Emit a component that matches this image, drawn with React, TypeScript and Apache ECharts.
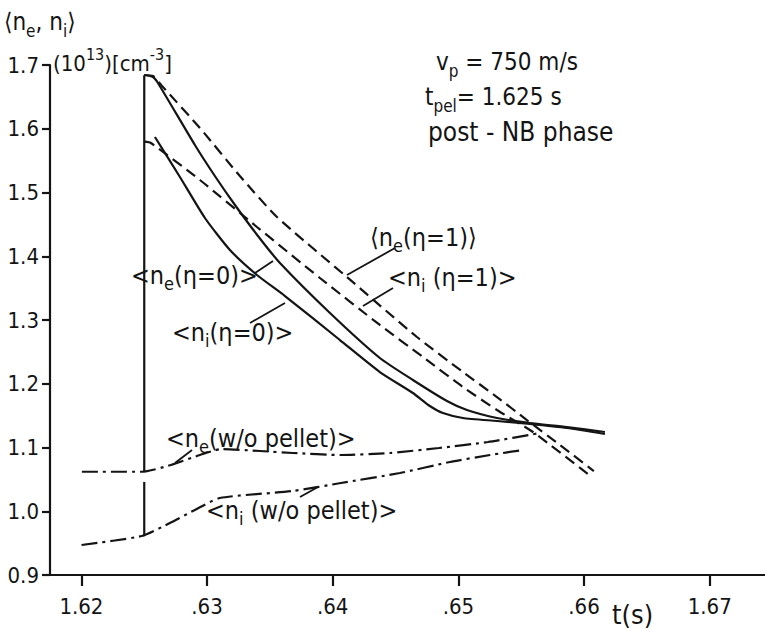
import React, { useEffect, useRef } from "react";
import * as echarts from "echarts";

// ---- data (t [s], density [1e13 cm^-3]) ----
const xTicks = [1.62, 1.63, 1.64, 1.65, 1.66, 1.67];
const xTickLabels = ["1.62", ".63", ".64", ".65", ".66", "1.67"];

const jumpNe = [[1.625, 1.062], [1.625, 1.684]];
const jumpNi = [[1.625, 0.961], [1.625, 1.046]];

const neEta0 = [
  [1.625, 1.6843], [1.62569, 1.6812], [1.62609, 1.6718], [1.62903, 1.5745],
  [1.63062, 1.5259], [1.63222, 1.4804], [1.63405, 1.4318], [1.6358, 1.3894],
  [1.63978, 1.311], [1.64375, 1.2404], [1.64638, 1.2059], [1.64909, 1.1729],
  [1.65068, 1.1588], [1.65307, 1.1463], [1.65569, 1.1384], [1.65864, 1.1322],
  [1.66166, 1.1243],
];

const niEta0 = [
  [1.62585, 1.5871], [1.62784, 1.5243], [1.62983, 1.46], [1.63182, 1.4098],
  [1.63397, 1.3706], [1.6362, 1.3376], [1.64057, 1.2686], [1.64375, 1.2184],
  [1.64638, 1.1855], [1.64773, 1.1651], [1.64877, 1.1541], [1.65036, 1.1463],
  [1.65307, 1.1416], [1.65569, 1.1369], [1.65864, 1.1306], [1.66166, 1.1212],
];

const neEta1 = [
  [1.625, 1.6843], [1.62569, 1.6827], [1.62649, 1.6655], [1.62943, 1.6012],
  [1.63261, 1.5259], [1.63556, 1.4616], [1.64113, 1.3674], [1.6467, 1.2733],
  [1.65036, 1.2184], [1.65307, 1.1792], [1.65545, 1.1431], [1.65808, 1.1039],
  [1.66078, 1.0631],
];

const niEta1 = [
  [1.625, 1.5797], [1.62553, 1.5776], [1.62943, 1.5196], [1.63397, 1.4459],
  [1.63898, 1.3659], [1.64375, 1.2922], [1.64718, 1.242], [1.65036, 1.1949],
  [1.65307, 1.1588], [1.65593, 1.1243], [1.66031, 1.0584],
];

const neNoPellet = [
  [1.62004, 1.062], [1.62481, 1.062], [1.62712, 1.0725], [1.62943, 1.0882],
  [1.63118, 1.0976], [1.6342, 1.0945], [1.63683, 1.0914], [1.64065, 1.0882],
  [1.64455, 1.0914], [1.64845, 1.0992], [1.65235, 1.1086], [1.65649, 1.1227],
];

const niNoPellet = [
  [1.62001, 0.9471], [1.62481, 0.9612], [1.62704, 0.9816], [1.62903, 1.002],
  [1.63102, 1.0208], [1.63683, 1.0318], [1.64065, 1.0443], [1.64535, 1.06],
  [1.64933, 1.0773], [1.65251, 1.0882], [1.65513, 1.0961],
];

const FONT = '"DejaVu Sans Condensed", "Liberation Sans Narrow", "DejaVu Sans", sans-serif';
const INK = "#141414";

const richStyles = (size: number) => ({
  m: { fontSize: size, fontFamily: FONT, fill: INK, color: INK, lineHeight: 34, verticalAlign: "middle" },
  s: { fontSize: Math.round(size * 0.72), fontFamily: FONT, fill: INK, color: INK, lineHeight: 34, verticalAlign: "bottom" },
  u: { fontSize: Math.round(size * 0.72), fontFamily: FONT, fill: INK, color: INK, lineHeight: 34, verticalAlign: "top" },
});

function label(x: number, y: number, text: string, size = 25) {
  return {
    type: "text",
    x,
    y,
    style: {
      text,
      rich: richStyles(size),
      fill: INK,
      fontFamily: FONT,
      fontSize: size,
      verticalAlign: "middle",
      align: "left",
    },
    z: 10,
  };
}

function leader(x1: number, y1: number, x2: number, y2: number) {
  return {
    type: "line",
    shape: { x1, y1, x2, y2 },
    style: { stroke: INK, lineWidth: 1.8 },
    z: 10,
  };
}

function lineSeries(name: string, data: number[][], type: any, smooth: number | boolean = 0.2) {
  return {
    name,
    type: "line",
    data,
    showSymbol: false,
    symbol: "none",
    smooth,
    lineStyle: { color: INK, width: 2.2, type },
    silent: true,
  };
}

export default function App() {
  const ref = useRef<HTMLDivElement>(null);
  useEffect(() => {
    if (!ref.current) return;
    const chart = echarts.init(ref.current, null, { renderer: "svg" });
    const option: any = {
      animation: false,
      backgroundColor: "#ffffff",
      grid: { left: 50, right: 0, top: 65, bottom: 55, containLabel: false },
      xAxis: {
        type: "value",
        min: 1.6175,
        max: 1.6744,
        splitLine: { show: false },
        axisLine: { show: true, lineStyle: { color: INK, width: 2.2 } },
        axisTick: { show: true, length: 11, inside: false, lineStyle: { color: INK, width: 2.2 }, customValues: xTicks },
        axisLabel: {
          customValues: xTicks,
          margin: 20,
          fontSize: 22,
          fontFamily: FONT,
          color: INK,
          formatter: (v: number) => {
            const i = xTicks.findIndex((t) => Math.abs(t - v) < 1e-6);
            return i >= 0 ? xTickLabels[i] : "";
          },
        },
      },
      yAxis: {
        type: "value",
        min: 0.9,
        max: 1.7,
        interval: 0.1,
        splitLine: { show: false },
        axisLine: { show: true, lineStyle: { color: INK, width: 2.2 } },
        axisTick: { show: true, length: 8, inside: false, lineStyle: { color: INK, width: 2.2 } },
        axisLabel: {
          margin: 11,
          fontSize: 22,
          fontFamily: FONT,
          color: INK,
          formatter: (v: number) => v.toFixed(1),
        },
      },
      series: [
        lineSeries("jump ne", jumpNe, "solid", false),
        lineSeries("jump ni", jumpNi, "solid", false),
        lineSeries("<ne(η=0)>", neEta0, "solid"),
        lineSeries("<ni(η=0)>", niEta0, "solid"),
        lineSeries("<ne(η=1)>", neEta1, [11, 6]),
        lineSeries("<ni(η=1)>", niEta1, [11, 6]),
        lineSeries("<ne(w/o pellet)>", neNoPellet, [16, 5, 3, 5]),
        lineSeries("<ni(w/o pellet)>", niNoPellet, [16, 5, 3, 5]),
      ],
      graphic: [
        label(4, 22, "{m|⟨n}{s|e}{m|, n}{s|i}{m|⟩}", 24),
        label(53, 63, "{m|(10}{u|13}{m|)[cm}{u|-3}{m|]}", 22),
        label(436, 62, "{m|v}{s|p}{m| = 750 m/s}", 24),
        label(425, 97, "{m|t}{s|pel}{m|= 1.625 s}", 24),
        label(428, 132, "{m|post - NB phase}", 26),
        label(370, 237, "{m|⟨n}{s|e}{m|(η=1)⟩}", 25),
        label(388, 277, "{m|<n}{s|i}{m| (η=1)>}", 25),
        label(131, 275, "{m|<n}{s|e}{m|(η=0)>}", 25),
        label(172, 332, "{m|<n}{s|i}{m|(η=0)>}", 25),
        label(166, 438, "{m|<n}{s|e}{m|(w/o pellet)>}", 25),
        label(206, 510, "{m|<n}{s|i}{m| (w/o pellet)>}", 25),
        label(612, 614, "{m|t(s)}", 27),
        leader(255, 273, 273, 261),
        leader(250, 323, 285, 303),
        leader(347, 275, 395, 248),
        leader(363, 306, 393, 288),
        leader(175, 463, 192, 450),
        leader(300, 497, 318, 487),
      ],
    };
    chart.setOption(option);
    return () => chart.dispose();
  }, []);
  return (
    <div
      ref={ref}
      style={{ position: "fixed", left: 0, top: 0, width: 765, height: 630, background: "#fff" }}
    />
  );
}
